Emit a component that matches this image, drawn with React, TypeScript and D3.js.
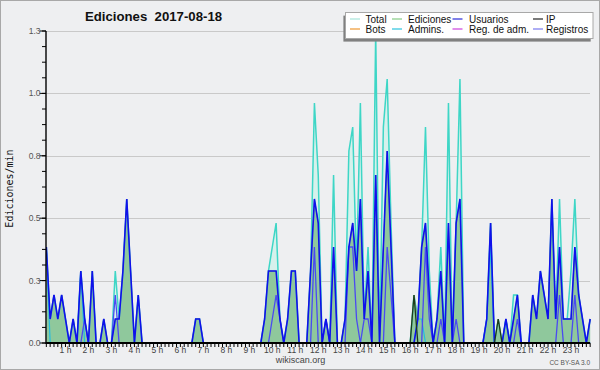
import React from "react";
import * as d3 from "d3";

const W = 600;
const H = 370;

// 10-minute bins (end time, minutes after 00:00)
const minutes = d3.range(10, 1440, 10);

const total = [
  0.4,0.1,0.2,0.1,0.2,0.1,0,0.1,0,0.3,
  0.1,0,0.3,0,0,0.1,0,0,0.3,0.1,
  0.3,0.6,0.3,0,0.2,0,0,0,0,0,
  0,0,0,0,0,0,0,0,0,0.1,
  0.1,0,0,0,0,0,0,0,0,0,
  0,0,0,0,0,0,0,0.1,0.3,0.4,
  0.5,0.1,0,0.1,0.3,0.3,0,0,0,0.3,
  1.0,0.7,0,0.1,0,0.7,0,0,0.1,0.8,
  0.9,0.3,1.0,0.1,0.4,0,1.3,0,0.9,1.1,
  0.5,0,0,0,0,0,0.2,0.1,0.4,0.9,
  0.3,0,0.1,0.4,0,1.0,0,0.5,1.1,0,
  0,0,0,0,0,0.1,0.5,0,0.1,0,
  0.1,0,0.2,0.2,0,0,0,0.2,0.1,0.3,
  0.2,0.1,0.6,0.1,0.6,0.1,0.1,0.3,0.6,0.2,
  0.1,0,0.1,
];

const ediciones = [
  0.4,0.1,0.2,0.1,0.2,0.1,0,0.1,0,0.3,
  0.1,0,0.3,0,0,0.1,0,0,0.1,0.1,
  0.3,0.6,0.3,0,0.2,0,0,0,0,0,
  0,0,0,0,0,0,0,0,0,0.1,
  0.1,0,0,0,0,0,0,0,0,0,
  0,0,0,0,0,0,0,0.1,0.3,0.3,
  0.3,0.1,0,0.1,0.3,0.3,0,0,0,0.3,
  0.6,0.5,0,0.1,0,0.4,0,0,0.1,0.4,
  0.5,0.3,0.6,0.1,0.3,0,0.7,0,0.4,0.8,
  0.4,0,0,0,0,0,0.2,0.1,0.4,0.5,
  0.2,0,0.1,0.3,0,0.5,0,0.5,0.6,0,
  0,0,0,0,0,0.1,0.5,0,0.1,0,
  0.1,0,0.1,0.2,0,0,0,0.2,0.1,0.3,
  0.2,0.1,0.6,0.1,0.4,0.1,0.1,0.1,0.4,0.2,
  0.1,0,0.1,
];

const usuarios = [
  0.4,0.1,0.2,0.1,0.2,0.1,0,0.1,0,0.3,
  0.1,0,0.3,0,0,0.1,0,0,0.1,0.1,
  0.3,0.6,0.3,0,0.2,0,0,0,0,0,
  0,0,0,0,0,0,0,0,0,0.1,
  0.1,0,0,0,0,0,0,0,0,0,
  0,0,0,0,0,0,0,0.1,0.3,0.3,
  0.3,0.1,0,0.1,0.3,0.3,0,0,0,0.3,
  0.6,0.5,0,0.1,0,0.4,0,0,0.1,0.4,
  0.5,0.3,0.6,0.1,0.3,0,0.7,0,0.4,0.8,
  0.4,0,0,0,0,0,0,0.1,0.4,0.5,
  0.2,0,0.1,0.3,0,0.5,0,0.5,0.6,0,
  0,0,0,0,0,0.1,0.5,0,0,0,
  0.1,0,0.1,0.2,0,0,0,0.2,0.1,0.3,
  0.2,0.1,0.6,0.1,0.4,0.1,0.1,0.1,0.4,0.2,
  0.1,0,0.1,
];

const ip = [
  0,0,0,0,0,0,0,0,0,0,
  0,0,0,0,0,0,0,0,0,0,
  0,0,0,0,0,0,0,0,0,0,
  0,0,0,0,0,0,0,0,0,0,
  0,0,0,0,0,0,0,0,0,0,
  0,0,0,0,0,0,0,0,0,0,
  0,0,0,0,0,0,0,0,0,0,
  0,0,0,0,0,0,0,0,0,0,
  0,0,0,0,0,0,0,0,0,0,
  0,0,0,0,0,0,0.2,0,0,0,
  0,0,0,0,0,0,0,0,0,0,
  0,0,0,0,0,0,0,0,0.1,0,
  0,0,0,0,0,0,0,0,0,0,
  0,0,0,0,0,0,0,0,0,0,
  0,0,0,
];

const admins = [
  0.4,0,0,0,0,0,0,0,0,0.3,
  0,0,0,0,0,0,0,0,0,0,
  0,0,0,0,0,0,0,0,0,0,
  0,0,0,0,0,0,0,0,0,0,
  0,0,0,0,0,0,0,0,0,0,
  0,0,0,0,0,0,0,0,0,0,
  0,0,0,0,0,0,0,0,0,0,
  0,0,0,0,0,0,0,0,0,0,
  0,0,0,0,0,0,0,0,0,0,
  0,0,0,0,0,0,0,0.1,0.1,0,
  0,0,0,0,0,0,0,0,0,0,
  0,0,0,0,0,0.1,0.4,0,0,0,
  0.1,0,0,0,0,0,0,0,0,0,
  0,0,0,0,0,0,0,0,0,0,
  0,0,0,
];

const registros = [
  0,0,0,0,0,0,0,0,0,0,
  0.1,0,0,0,0,0,0,0,0.2,0,
  0,0,0,0,0,0,0,0,0,0,
  0,0,0,0,0,0,0,0,0,0,
  0,0,0,0,0,0,0,0,0,0,
  0,0,0,0,0,0,0,0,0,0.1,
  0.2,0.1,0,0,0,0,0,0,0,0,
  0.4,0,0,0.1,0,0,0,0,0,0.4,
  0.4,0.1,0,0.1,0.1,0,0,0,0,0.4,
  0.2,0,0,0,0,0,0,0,0,0.4,
  0.1,0,0,0.1,0,0,0,0.1,0,0,
  0,0,0,0,0,0,0,0,0,0,
  0,0,0,0.1,0,0,0,0,0,0,
  0,0,0,0,0.2,0,0,0,0.2,0,
  0,0,0,
];

const hours = d3.range(1, 24);
const yMajor = [0, 0.26, 0.52, 0.78, 1.04, 1.3];
const yMinor = d3.range(0, 1.3001, 0.065);

const legendItems = [
  { label: "Total", color: "#aee6de", col: 0, row: 0 },
  { label: "Ediciones", color: "#8ed08e", col: 1, row: 0 },
  { label: "Usuarios", color: "#3c3cdc", col: 2, row: 0 },
  { label: "IP", color: "#333333", col: 3, row: 0 },
  { label: "Bots", color: "#f0a040", col: 0, row: 1 },
  { label: "Admins.", color: "#3cc8e0", col: 1, row: 1 },
  { label: "Reg. de adm.", color: "#d050e0", col: 2, row: 1 },
  { label: "Registros", color: "#8282f0", col: 3, row: 1 },
];
const legendLineX = [350, 392, 452.5, 533];
const legendTextX = [365.5, 408, 469, 546];

const FONT = "'Liberation Sans', Arial, sans-serif";

export default function App() {
  const x = d3.scaleLinear().domain([0, 1440]).range([42.5, 594]);
  const y = d3.scaleLinear().domain([0, 1.3]).range([343, 31]);
  const x0 = 46;
  const x1 = 590;

  const areaGen = d3
    .area<number>()
    .x((_, i) => x(minutes[i]))
    .y0(y(0))
    .y1((d) => y(d));
  const lineGen = d3
    .line<number>()
    .x((_, i) => x(minutes[i]))
    .y((d) => y(d));

  const fmt = d3.format(".1f");
  const minorX = minutes;

  return (
    <svg
      width={W}
      height={H}
      style={{ position: "absolute", left: 0, top: 0, display: "block" }}
    >
      <defs>
        <clipPath id="plotclip">
          <rect x={x0} y={y(1.3) - 1} width={x1 - x0 + 2} height={y(0) - y(1.3) + 1} />
        </clipPath>
      </defs>
      <rect x={0.5} y={0.5} width={W - 1} height={H - 1} fill="#eeeff1" stroke="#a8a8a8" />

      {/* title */}
      <text
        x={85}
        y={20.5}
        fontFamily={FONT}
        fontWeight="bold"
        fontSize={13.2}
        fill="#111"
        style={{ whiteSpace: "pre" }}
        xmlSpace="preserve"
      >
        {"Ediciones  2017-08-18"}
      </text>

      {/* grid */}
      {yMajor.map((v) => (
        <line key={"g" + v} x1={x0} x2={x1} y1={Math.round(y(v)) + 0.5} y2={Math.round(y(v)) + 0.5} stroke="#c9c9c9" strokeWidth={1} />
      ))}

      {/* series */}
      <g clipPath="url(#plotclip)">
        <path d={areaGen(total) || ""} fill="#d7f1ec" stroke="none" />
        <path d={areaGen(ediciones) || ""} fill="#8fc89c" stroke="none" />
        <path d={lineGen(total) || ""} fill="none" stroke="#3ed6c6" strokeWidth={1.5} />
        <path d={lineGen(ediciones) || ""} fill="none" stroke="#6fb27c" strokeWidth={1} />
        <path d={lineGen(admins) || ""} fill="none" stroke="#22bde0" strokeWidth={1.2} />
        <path d={lineGen(registros) || ""} fill="none" stroke="#4a4af2" strokeWidth={1.3} />
        <path d={lineGen(usuarios) || ""} fill="none" stroke="#1010ec" strokeWidth={1.6} />
        <path d={lineGen(ip) || ""} fill="none" stroke="#1c3a1c" strokeWidth={1.3} />
      </g>

      {/* y axis */}
      <line x1={x0} x2={x0} y1={y(1.3)} y2={y(0) + 1} stroke="#000" strokeWidth={1.4} />
      {yMinor.map((v, i) => (
        <line key={"ym" + i} x1={x0 - 4} x2={x0} y1={y(v)} y2={y(v)} stroke="#000" strokeWidth={1} />
      ))}
      {yMajor.map((v) => (
        <g key={"yt" + v}>
          <line x1={x0 - 6.5} x2={x0} y1={y(v)} y2={y(v)} stroke="#000" strokeWidth={1} />
          <text x={40.5} y={y(v) + 3} textAnchor="end" fontFamily={FONT} fontSize={8.5} fill="#555">
            {fmt(v)}
          </text>
        </g>
      ))}
      <text
        transform={`translate(13,${188.5}) rotate(-90)`}
        textAnchor="middle"
        fontFamily="'DejaVu Sans Mono', monospace"
        fontSize={10}
        fill="#111"
      >
        Ediciones/min
      </text>

      {/* x axis */}
      <line x1={x0} x2={x1} y1={y(0)} y2={y(0)} stroke="#000" strokeWidth={2} />
      {minorX.map((m) => (
        <line key={"xm" + m} x1={x(m)} x2={x(m)} y1={y(0)} y2={y(0) + 4} stroke="#000" strokeWidth={1} />
      ))}
      {hours.map((h) => (
        <text key={"xl" + h} x={x(h * 60)} y={353.3} textAnchor="middle" fontFamily={FONT} fontSize={8.5} fill="#444">
          {`${h} h`}
        </text>
      ))}
      <text x={300.5} y={362.5} textAnchor="middle" fontFamily={FONT} fontSize={9} fill="#444">
        wikiscan.org
      </text>
      <text x={590} y={364.5} textAnchor="end" fontFamily={FONT} fontSize={6.5} fill="#555">
        CC BY-SA  3.0
      </text>

      {/* legend */}
      <rect x={343.4} y={15.6} width={247.3} height={26} fill="#808080" />
      <rect x={345.5} y={12.5} width={247.5} height={26} fill="#ffffff" stroke="#a8a8a8" strokeWidth={1} />
      {legendItems.map((it) => {
        const ly = it.row === 0 ? 19 : 29;
        return (
          <g key={it.label}>
            <line
              x1={legendLineX[it.col]}
              x2={legendLineX[it.col] + 10}
              y1={ly}
              y2={ly}
              stroke={it.color}
              strokeWidth={1.3}
            />
            <text x={legendTextX[it.col]} y={ly + 3.6} fontFamily={FONT} fontSize={10} fill="#111">
              {it.label}
            </text>
          </g>
        );
      })}
    </svg>
  );
}
